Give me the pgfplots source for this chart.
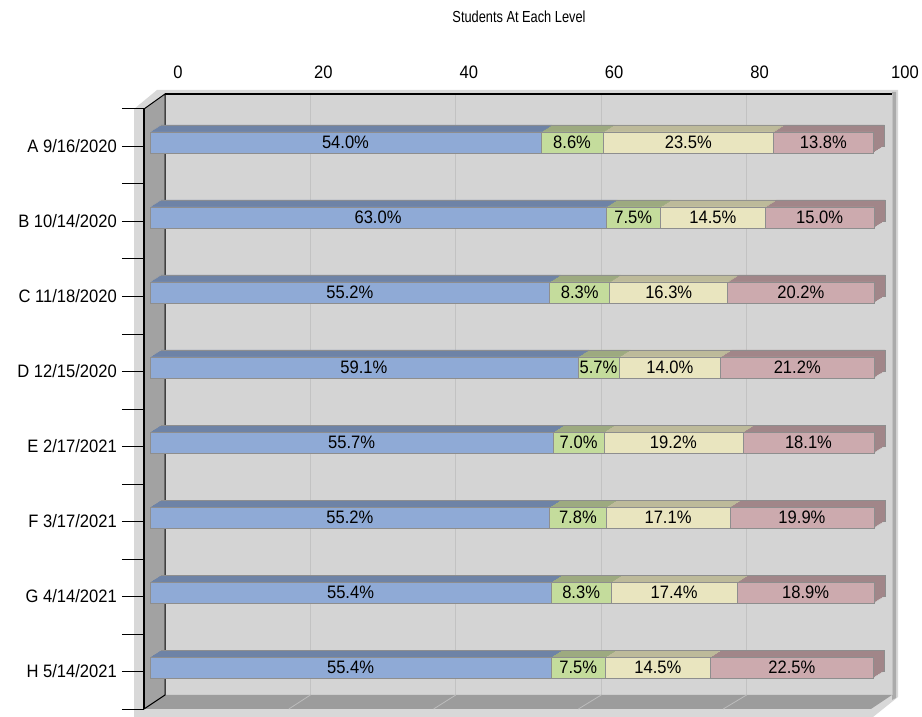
\documentclass[border=0pt]{standalone}
\usepackage{fontspec}
\setmainfont[FakeStretch=0.92]{Liberation Sans}
\newfontfamily\titlefont[FakeStretch=0.8]{Liberation Sans}
\usepackage{pgfplots}
\usepackage{pgfplotstable}
\pgfplotsset{compat=1.18}
\definecolor{bluef}{HTML}{8FAAD6}
\definecolor{bluet}{HTML}{6E83A6}
\definecolor{greenf}{HTML}{C4DC9C}
\definecolor{greent}{HTML}{9DAA80}
\definecolor{creamf}{HTML}{E9E5BF}
\definecolor{creamt}{HTML}{BDBA9A}
\definecolor{pinkf}{HTML}{CCAAAE}
\definecolor{pinkt}{HTML}{A18689}
\definecolor{wallbg}{HTML}{D4D4D4}
\definecolor{walldark}{HTML}{A2A2A2}
\definecolor{floorc}{HTML}{9C9C9C}
\definecolor{rim}{HTML}{D8D8D8}
\definecolor{rimdark}{HTML}{ABABAB}
\definecolor{gridc}{HTML}{C2C2C2}
\definecolor{floorgrid}{HTML}{BDBDBD}
\definecolor{barline}{HTML}{8E8E8E}

\pgfplotstableread{
y a b c d
0 54.0 8.6 23.5 13.8
1 63.0 7.5 14.5 15.0
2 55.2 8.3 16.3 20.2
3 59.1 5.7 14.0 21.2
4 55.7 7.0 19.2 18.1
5 55.2 7.8 17.1 19.9
6 55.4 8.3 17.4 18.9
7 55.4 7.5 14.5 22.5
}\data

\newcommand\lab{\fontsize{18}{20}\selectfont}

\pgfplotsset{
  /pgf/number format/assume math mode=true,
  barax/.style={anchor=south west, width=724pt, height=600pt, scale only axis,
    xmin=0, xmax=100, ymin=-0.5, ymax=7.5, y dir=reverse,
    axis lines=none, xbar stacked, bar width=21pt, clip=false},
}

\newcommand\depth[3]{%
\begin{axis}[barax, at={(#1pt,#2pt)}]
\addplot[fill=bluet, #3] table[x=a,y=y]{\data};
\addplot[fill=greent, #3] table[x=b,y=y]{\data};
\addplot[fill=creamt, #3] table[x=c,y=y]{\data};
\addplot[fill=pinkt, #3] table[x=d,y=y]{\data};
\end{axis}}

\begin{document}
\begin{tikzpicture}
% rim / wall thickness
\begin{scope}[x=1pt, y=-1pt, shift={(0pt,717pt)}]
\fill[rim] (134,717) -- (134,109) -- (157,90) -- (898,90) -- (898,697) -- (873,717) -- cycle;
\fill[rimdark] (892,92) -- (896,92) -- (896,698) -- (892,700) -- cycle;
\end{scope}

% back wall
\begin{axis}[anchor=south west, at={(165pt,22pt)}, width=727pt, height=601pt, scale only axis,
  xmin=0, xmax=100, ymin=0, ymax=1,
  axis x line*=top, axis y line=none,
  axis background/.style={fill=wallbg},
  xtick={0,20,...,100}, xmajorgrids, major grid style={gridc, line width=0.8pt},
  major tick length=0pt,
  axis line style={black, line width=1.5pt},
  xticklabel style={font=\lab, anchor=center, xshift=13pt, yshift=22pt},
]
\end{axis}

\begin{scope}[x=1pt, y=-1pt, shift={(0pt,717pt)}]
\fill[walldark] (144,109) -- (165,94) -- (165,695) -- (144,709) -- cycle;
\fill[floorc] (144,709) -- (165,695) -- (892,695) -- (871,709) -- cycle;
\foreach \k in {1,2,3,4} {
  \draw[floorgrid, line width=0.8pt] ({165+145.4*\k},695) -- ({144+144.8*\k},709);
}
\draw[black, line width=1pt] (144,109) -- (165,94) -- (165,695) -- (144,709);
\end{scope}

% bar depth layers (far to near)
\depth{161}{19}{draw=barline, line width=0.6pt}
\depth{159.43}{18}{draw=none}
\depth{157.86}{17}{draw=none}
\depth{156.29}{16}{draw=none}
\depth{154.71}{15}{draw=none}
\depth{153.14}{14}{draw=none}
\depth{151.57}{13}{draw=none}

% front faces
\begin{axis}[barax, at={(150pt,12pt)},
  point meta=explicit,
  nodes near coords={\pgfmathprintnumber[fixed,fixed zerofill,precision=1]{\pgfplotspointmeta}\%},
  every node near coord/.append style={anchor=center, font=\lab, text=black, inner sep=0pt},
]
\addplot[fill=bluef, draw=barline, line width=0.6pt] table[x=a,y=y,meta=a]{\data};
\addplot[fill=greenf, draw=barline, line width=0.6pt] table[x=b,y=y,meta=b]{\data};
\addplot[fill=creamf, draw=barline, line width=0.6pt] table[x=c,y=y,meta=c]{\data};
\addplot[fill=pinkf, draw=barline, line width=0.6pt] table[x=d,y=y,meta=d]{\data};
\end{axis}

% front frame: left axis with category labels
\begin{axis}[anchor=south west, at={(144pt,8pt)}, width=724pt, height=600pt, scale only axis,
  xmin=0, xmax=100, ymin=-0.5, ymax=7.5, y dir=reverse,
  axis y line*=left, axis x line=none,
  ytick={0,...,7},
  yticklabels={A 9/16/2020, B 10/14/2020, C 11/18/2020, D 12/15/2020, E 2/17/2021, F 3/17/2021, G 4/14/2021, H 5/14/2021},
  minor ytick={-0.5,0.5,...,7.5},
  tick align=outside, major tick length=22pt, minor tick length=22pt,
  major tick style={black, line width=1pt}, minor tick style={black, line width=1pt},
  axis line style={black, line width=1.2pt},
  yticklabel style={font=\lab, inner sep=0pt, anchor=east, xshift=-5pt},
]
\end{axis}

\node[font=\titlefont\fontsize{16}{18}\selectfont] at (519pt,700pt) {Students At Each Level};

\pgfresetboundingbox
\useasboundingbox (0pt,0pt) rectangle (922pt,717pt);
\end{tikzpicture}
\end{document}
